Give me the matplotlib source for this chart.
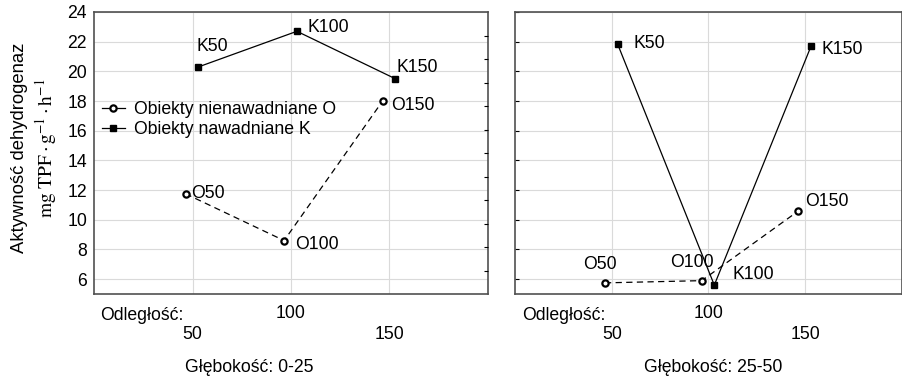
import matplotlib
matplotlib.use("Agg")
import matplotlib.pyplot as plt
from matplotlib.lines import Line2D

plt.rcParams['font.family'] = ['Liberation Sans', 'DejaVu Sans']
plt.rcParams['mathtext.fontset'] = 'stix'

# data
dist = [50, 100, 150]
o_shift, k_shift = -3.5, 3.0
o_top = [11.75, 8.6, 18.0]      # 0-25 cm, nienawadniane
k_top = [20.3, 22.7, 19.5]      # 0-25 cm, nawadniane
o_bot = [5.75, 5.9, 10.6]       # 25-50 cm
k_bot = [21.85, 5.6, 21.7]
o_names = ['O50', 'O100', 'O150']
k_names = ['K50', 'K100', 'K150']
depths = ['Głębokość: 0-25', 'Głębokość: 25-50']
xtick_labels = ['\n50', '100', '\n150']

# label offsets (pixels, +y = up) per panel
o_off = [[(6, 0, 'left'), (11, -4, 'left'), (9, -4, 'left')],
         [(-5, 18, 'center'), (-32, 18, 'left'), (7, 9, 'left')]]
k_off = [[(-2, 20, 'left'), (11, 4, 'left'), (1, 11, 'left')],
         [(16, 0, 'left'), (18, 11, 'left'), (10, -3, 'left')]]

fs = 12.7
fig = plt.figure(figsize=(9.03, 3.8), dpi=100)
ax1 = fig.add_axes([94/903, 86/380, 394/903, 282/380])
ax2 = fig.add_axes([515/903, 86/380, 387/903, 282/380])

for i, (ax, ov, kv) in enumerate([(ax1, o_top, k_top), (ax2, o_bot, k_bot)]):
    xo = [d + o_shift for d in dist]
    xk = [d + k_shift for d in dist]
    ax.plot(xo, ov, color='black', lw=0.9, ls=(0, (5, 3.5)), marker='o',
            ms=4.5, mfc='white', mec='black', mew=1.6, zorder=3)
    ax.plot(xk, kv, color='black', lw=0.9, ls='-', marker='s',
            ms=4.5, mfc='black', mec='black', zorder=3)
    for x, y, t, (dx, dy, ha) in zip(xo + xk, ov + kv, o_names + k_names,
                                     o_off[i] + k_off[i]):
        ax.annotate(t, (x, y), xytext=(dx, dy), textcoords='offset pixels',
                    ha=ha, va='center', fontsize=fs)

    ax.set_xlim(0, 200)
    ax.set_ylim(5, 24)
    ax.set_xticks(dist)
    ax.set_xticklabels(xtick_labels, fontsize=fs, va='top', linespacing=1.3)
    ax.set_yticks(range(6, 25, 2))
    ax.grid(True, color='#dadada', lw=0.8, zorder=0)
    ax.set_axisbelow(True)
    ax.tick_params(axis='x', length=0, pad=8)
    for s in ax.spines.values():
        s.set_color('#505050')
        s.set_linewidth(1.2)
    ax.text(0.015 if i == 0 else 0.018, -0.045, 'Odległość:', transform=ax.transAxes,
            ha='left', va='top', fontsize=fs)

ax1.tick_params(axis='y', length=0, pad=5, labelsize=fs)
ax2.tick_params(axis='y', direction='in', length=3, labelleft=False)

# small inner ticks on right edge of left panel
tw = ax1.twinx()
tw.set_ylim(0, 12)
tw.set_yticks(range(1, 12))
tw.tick_params(axis='y', direction='in', length=3, labelright=False)
for s in tw.spines.values():
    s.set_visible(False)

fig.text(249/903, 1 - 368/380, depths[0], ha='center', va='center', fontsize=fs)
fig.text(713/903, 1 - 368/380, depths[1], ha='center', va='center', fontsize=fs)

fig.text(20/903, 1 - 148/380, 'Aktywność dehydrogenaz', rotation=90,
         ha='center', va='center', fontsize=13.3)
fig.text(46/903, 1 - 148/380, r'$\mathrm{mg\ TPF} \cdot \mathrm{g}^{-1} \cdot \mathrm{h}^{-1}$',
         rotation=90, ha='center', va='center', fontsize=14)

handles = [Line2D([], [], color='black', lw=0.9, marker='o', ms=4.5, mfc='white',
                  mec='black', mew=1.6),
           Line2D([], [], color='black', lw=0.9, marker='s', ms=4.5, mfc='black')]
ax1.legend(handles, ['Obiekty nienawadniane O', 'Obiekty nawadniane K'],
           loc='upper left', bbox_to_anchor=(0.02, 0.685), frameon=False,
           fontsize=fs, handlelength=1.3, handletextpad=0.5, labelspacing=0.2,
           borderpad=0, borderaxespad=0)

fig.savefig('out.png', dpi=100)
